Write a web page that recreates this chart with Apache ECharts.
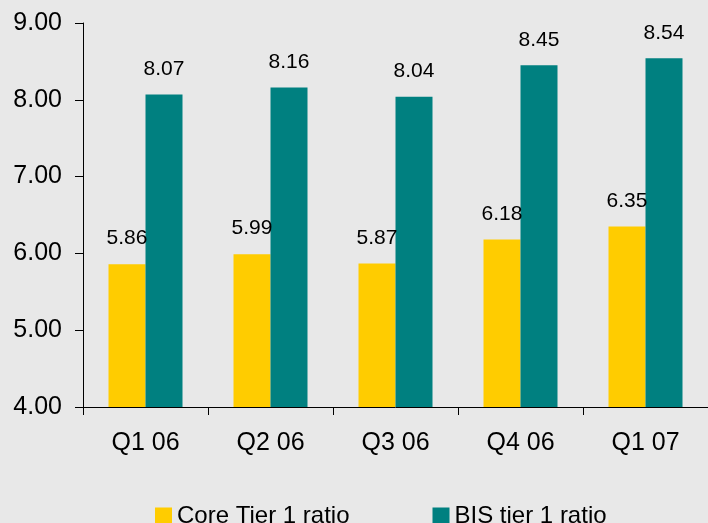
<!DOCTYPE html>
<html>
<head>
<meta charset="utf-8">
<script src="https://cdn.jsdelivr.net/npm/echarts@6/dist/echarts.min.js"></script>
<style>
  html, body { margin: 0; padding: 0; background: #e8e8e8; }
  #chart { width: 708px; height: 523px; }
</style>
</head>
<body>
<div id="chart"></div>
<script>
// Quarterly capital ratios (%)
const quarters = ['Q1 06', 'Q2 06', 'Q3 06', 'Q4 06', 'Q1 07'];
const coreTier1 = [5.86, 5.99, 5.87, 6.18, 6.35];
const bisTier1 = [8.07, 8.16, 8.04, 8.45, 8.54];
const seriesNames = ['Core Tier 1 ratio', 'BIS tier 1 ratio'];

const FONT = "'Liberation Sans', Arial, sans-serif";

const chart = echarts.init(document.getElementById('chart'));

function barSeries(name, values, color) {
  return {
    name: name,
    type: 'bar',
    data: values,
    barWidth: 37,
    barGap: '0%',
    itemStyle: { color: color },
    label: {
      show: true,
      position: 'top',
      distance: 15,
      color: '#000',
      fontFamily: FONT,
      fontSize: 21,
      formatter: p => p.value.toFixed(2)
    },
    emphasis: { disabled: true }
  };
}

chart.setOption({
  backgroundColor: '#e8e8e8',
  animation: false,
  textStyle: { fontFamily: FONT, color: '#000' },
  grid: { left: 83, top: 23, width: 631, height: 384 },
  legend: {
    data: seriesNames,
    left: 155,
    top: 504,
    padding: 0,
    itemWidth: 17,
    itemHeight: 17,
    itemGap: 83,
    icon: 'rect',
    textStyle: { fontFamily: FONT, fontSize: 24, color: '#000' }
  },
  xAxis: {
    type: 'category',
    data: quarters,
    axisLine: { lineStyle: { color: '#000', width: 1 } },
    axisTick: { show: true, length: 8, lineStyle: { color: '#000' } },
    axisLabel: { fontFamily: FONT, fontSize: 25, color: '#000', margin: 24 }
  },
  yAxis: {
    type: 'value',
    min: 4,
    max: 9,
    interval: 1,
    splitLine: { show: false },
    axisLine: { show: true, lineStyle: { color: '#000', width: 1 } },
    axisTick: { show: true, length: 8, lineStyle: { color: '#000' } },
    axisLabel: {
      fontFamily: FONT, fontSize: 25, color: '#000', margin: 21,
      formatter: v => v.toFixed(2)
    }
  },
  series: [
    barSeries(seriesNames[0], coreTier1, '#ffcc00'),
    barSeries(seriesNames[1], bisTier1, '#008080')
  ]
});
</script>
</body>
</html>
